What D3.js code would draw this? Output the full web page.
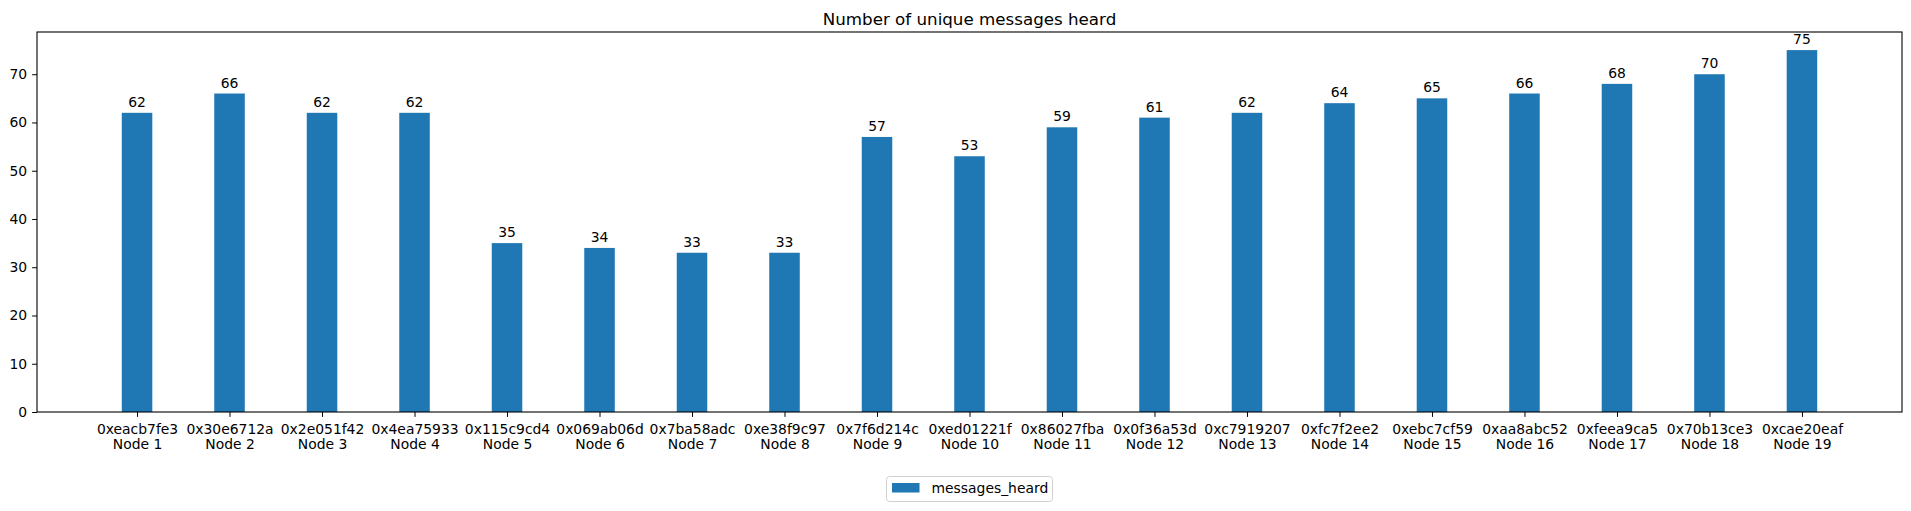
<!DOCTYPE html>
<html>
<head>
<meta charset="utf-8">
<script src="https://cdn.jsdelivr.net/npm/d3@7"></script>
<style>
body { margin: 0; background: #fff; }
text { font-family: "DejaVu Sans", sans-serif; fill: #000; }
</style>
</head>
<body>
<svg id="chart"></svg>
<script>
var width = 1911;
var height = 511;
var margin = {left: 37, right: 9, top: 32, bottom: 99};

const node_ids = ["0xeacb7fe3", "0x30e6712a", "0x2e051f42", "0x4ea75933", "0x115c9cd4",
	"0x069ab06d", "0x7ba58adc", "0xe38f9c97", "0x7f6d214c", "0xed01221f", "0x86027fba",
	"0x0f36a53d", "0xc7919207", "0xfc7f2ee2", "0xebc7cf59", "0xaa8abc52", "0xfeea9ca5",
	"0x70b13ce3", "0xcae20eaf"];
const node_names = ["Node 1", "Node 2", "Node 3", "Node 4", "Node 5", "Node 6", "Node 7",
	"Node 8", "Node 9", "Node 10", "Node 11", "Node 12", "Node 13", "Node 14", "Node 15",
	"Node 16", "Node 17", "Node 18", "Node 19"];
const messages_heard = [62, 66, 62, 62, 35, 34, 33, 33, 57, 53, 59, 61, 62, 64, 65, 66, 68, 70, 75];
const y_ticks = [0, 10, 20, 30, 40, 50, 60, 70];
const bar_width = 0.33;
const color = "#1f77b4";

var svg = d3.select("#chart").attr("width", width).attr("height", height);

var n = messages_heard.length;
var lo = -bar_width/2, hi = n-1+bar_width/2;
var pad = 0.05*(hi-lo);
var x = d3.scaleLinear().domain([lo-pad, hi+pad]).range([margin.left, width-margin.right]);
var ymax = d3.max(messages_heard)*1.05;
var y = d3.scaleLinear().domain([0, ymax]).range([height-margin.bottom, margin.top]);

// bars
svg.selectAll(".bar").data(messages_heard)
	.enter().append("rect")
	.attr("class", "bar")
	.attr("x", (d,i) => x(i-bar_width/2))
	.attr("width", (d,i) => x(i+bar_width/2)-x(i-bar_width/2))
	.attr("y", d => y(d))
	.attr("height", d => y(0)-y(d))
	.style("fill", color);

// value labels
svg.selectAll(".val").data(messages_heard)
	.enter().append("text")
	.attr("class", "val")
	.attr("x", (d,i) => x(i))
	.attr("y", d => y(d)-6)
	.attr("text-anchor", "middle")
	.style("font-size", "13.9px")
	.text(d => d);

// y axis
var yAxis = svg.append("g")
	.attr("transform", "translate(" + margin.left + ",0)")
	.call(d3.axisLeft(y).tickValues(y_ticks).tickSize(4.9).tickPadding(4.9));
yAxis.select(".domain").remove();
yAxis.selectAll("text").style("font-size", "13.9px").style("font-family", "DejaVu Sans");

// x axis
var xAxis = svg.append("g")
	.attr("transform", "translate(0," + (height-margin.bottom) + ")")
	.call(d3.axisBottom(x).tickValues(d3.range(n)).tickSize(4.9).tickFormat(""));
xAxis.select(".domain").remove();
xAxis.selectAll(".tick").each(function(d) {
	var t = d3.select(this).append("text")
		.attr("text-anchor", "middle")
		.style("font-size", "13.9px")
		.style("font-family", "DejaVu Sans")
		.attr("fill", "#000");
	t.append("tspan").attr("x", 0).attr("y", 22).text(node_ids[d]);
	t.append("tspan").attr("x", 0).attr("y", 37).text(node_names[d]);
});

// frame
svg.append("rect")
	.attr("x", margin.left)
	.attr("y", margin.top)
	.attr("width", width-margin.left-margin.right)
	.attr("height", height-margin.top-margin.bottom)
	.style("fill", "none")
	.style("stroke", "black")
	.style("stroke-width", 1.1);

// title
svg.append("text")
	.attr("x", (margin.left + width - margin.right)/2)
	.attr("y", 25)
	.attr("text-anchor", "middle")
	.style("font-size", "16.7px")
	.text("Number of unique messages heard");

// legend
var legend = svg.append("g");
legend.append("rect")
	.attr("x", 886.5).attr("y", 476.5)
	.attr("width", 166).attr("height", 25)
	.attr("rx", 3)
	.style("fill", "white")
	.style("stroke", "#d0d0d0");
legend.append("rect")
	.attr("x", 892).attr("y", 483)
	.attr("width", 27.5).attr("height", 9.5)
	.style("fill", color);
legend.append("text")
	.attr("x", 931.5).attr("y", 493)
	.style("font-size", "13.9px")
	.text("messages_heard");
</script>
</body>
</html>
